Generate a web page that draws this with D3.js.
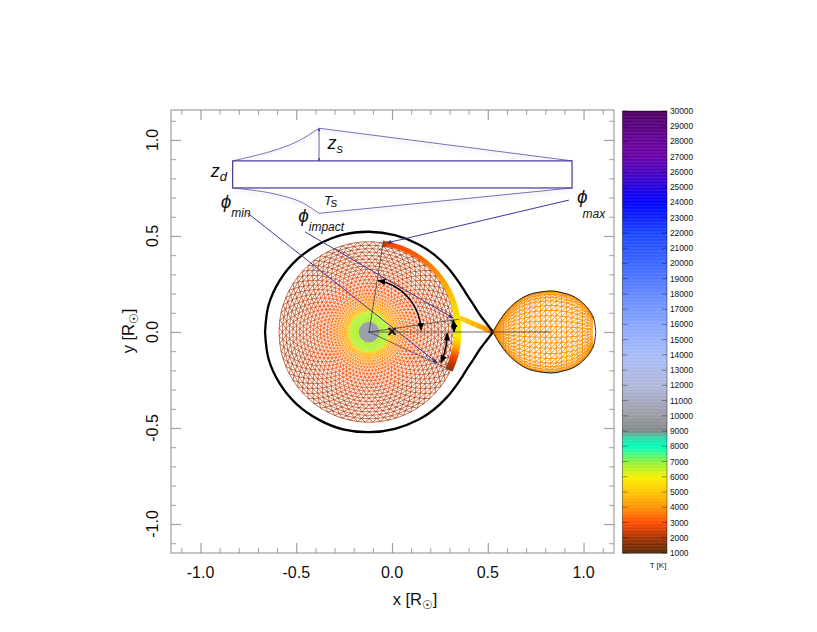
<!DOCTYPE html>
<html>
<head>
<meta charset="utf-8">
<script src="https://d3js.org/d3.v7.min.js"></script>
<style>
html, body { margin: 0; padding: 0; background: #fff; }
svg { display: block; }
text { font-family: "Liberation Sans", Arial, sans-serif; fill: #111; }
</style>
</head>
<body>
<svg id="chart" width="817" height="632"></svg>
<script>
// axis ticks
var majorTicks = [-1.0, -0.5, 0.0, 0.5, 1.0];
var minorTicks = [-1.1, -0.9, -0.8, -0.7, -0.6, -0.4, -0.3, -0.2, -0.1, 0.1, 0.2, 0.3, 0.4, 0.6, 0.7, 0.8, 0.9, 1.1];

// colour bar
var colorTemps = [1000, 1500, 2000, 3000, 4000, 5000, 6000, 7000, 8000, 8600, 9000, 10000, 12000, 14000, 16000, 18000, 20000, 22000, 24000, 25000, 26000, 27000, 28000, 29000, 30000];
var colorHexes = ['#5a2a05', '#7a2c02', '#a53202', '#ff4a00', '#ff9200', '#ffc400', '#f8f000', '#8df23c', '#00ffc0', '#30d8a8', '#808888', '#9a9aa2', '#b0b8dc', '#a8bcf8', '#88a6ff', '#6488ff', '#3a66ff', '#1a46ff', '#0000ff', '#2200e0', '#4800c0', '#6a00a8', '#660098', '#580080', '#500060'];
var barTicks = d3.range(1000, 30001, 1000);

// Roche lobe of the primary, angle round the primary and distance from it
var lobePhi = [0, 4, 8, 12, 16, 20, 25, 30, 40, 50, 60, 75, 90, 105, 120, 135, 150, 165, 180];
var lobeR = [0.647, 0.616, 0.590, 0.572, 0.559, 0.548, 0.540, 0.535, 0.530, 0.527, 0.525, 0.522, 0.522, 0.525, 0.527, 0.533, 0.538, 0.543, 0.543];

// secondary, x and half height
var donorX = [0.527, 0.564, 0.601, 0.642, 0.684, 0.726, 0.768, 0.810, 0.851, 0.893, 0.935, 0.977, 1.013, 1.040, 1.055, 1.064];
var donorH = [0, 0.0625, 0.112, 0.151, 0.180, 0.198, 0.207, 0.2125, 0.2125, 0.203, 0.191, 0.167, 0.134, 0.098, 0.0625, 0];
var donorCos = [1, 0.97, 0.92, 0.85, 0.76, 0.65, 0.53, 0.40, 0.27, 0.13, 0, -0.13, -0.27, -0.40, -0.53, -0.65, -0.76, -0.85, -0.92, -0.97, -1];
var donorTemp = 3950;

// disc
var primaryX = -0.12;
var starR = 0.054;
var starTemp = 10300;
var ringR = [0.054, 0.062, 0.070, 0.078, 0.086, 0.094, 0.101, 0.108, 0.116, 0.126, 0.138, 0.152, 0.167, 0.183, 0.200, 0.218, 0.236, 0.254, 0.272, 0.290, 0.308, 0.326, 0.344, 0.362, 0.380, 0.398, 0.416, 0.434, 0.452, 0.470];
var ringT = [6700, 6700, 6700, 6700, 6700, 6700, 6500, 5000, 4600, 4300, 4100, 3800, 3600, 3400, 3200, 3050, 2950, 2850, 2750, 2650, 2550, 2450, 2400, 2300, 2250, 2200, 2150, 2100, 2050, 2000];
var spokes = 72;

// hot rim of the disc
var rimPhi = [81, 77, 60, 50, 40, 30, 20, 12, 5, 0, -5, -10, -15, -20, -25];
var rimT = [2100, 2900, 3200, 3600, 4000, 4600, 5200, 5600, 5900, 6300, 5500, 4200, 3000, 2300, 1800];
var rimW = [0.03, 0.025, 0.025, 0.025, 0.025, 0.028, 0.03, 0.034, 0.04, 0.04, 0.04, 0.04, 0.04, 0.04, 0.04];
var rimOuter = 0.482;

// accretion stream
var streamX = [0.527, 0.50, 0.47, 0.44, 0.41, 0.38, 0.355];
var streamY = [0, 0.012, 0.024, 0.037, 0.049, 0.062, 0.073];
var streamT = [3900, 4200, 4500, 4800, 5000, 5200, 5300];

// phi angles
var phiMax = 81, phiImpact = 8, phiMin = -25;

// unfolded disc sketch
var sketchX = [-0.832, 0.940];
var sketchY = [0.750, 0.891];
var sketchTopX = [-0.832, -0.637, -0.496, -0.381];
var sketchTopY = [0.891, 0.939, 0.991, 1.061];
var sketchBotX = [-0.832, -0.637, -0.480, -0.381];
var sketchBotY = [0.750, 0.724, 0.679, 0.618];

// leaders: from x, from y, to x, to y
var leaderMin = [-0.755, 0.620, 0.235, -0.160];
var leaderImpact = [-0.454, 0.521, 0.319, 0.073];
var leaderMax = [0.924, 0.687, -0.026, 0.464];

var svg = d3.select('#chart');
var frame = {left: 171, right: 614, top: 110, bottom: 553};

var xScale = d3.scaleLinear().domain([-1.154, 1.159]).range([frame.left, frame.right]);
var yScale = d3.scaleLinear().domain([-1.151, 1.156]).range([frame.bottom, frame.top]);
var tempColor = d3.scaleLinear().domain(colorTemps).range(colorHexes);
var pxPerUnit = xScale(1) - xScale(0);

var polar = function(r, phi) {
	let a = phi * Math.PI / 180;
	return [xScale(primaryX + r * Math.cos(a)), yScale(r * Math.sin(a))];
};

var defs = svg.append('defs');
var addMarker = function(id, color, size) {
	defs.append('marker').attr('id', id)
		.attr('viewBox', '0 0 10 10').attr('refX', 9).attr('refY', 5)
		.attr('markerUnits', 'userSpaceOnUse')
		.attr('markerWidth', size).attr('markerHeight', size)
		.attr('orient', 'auto-start-reverse')
		.append('path').attr('d', 'M0,1 L10,5 L0,9 Z').attr('fill', color);
};
addMarker('arrow-black', '#000', 8);
addMarker('arrow-blue', '#2f2a8c', 5);
addMarker('arrow-small', '#3a3484', 3);

var shadow = defs.append('filter').attr('id', 'soft')
	.attr('x', '-5%').attr('y', '-30%').attr('width', '110%').attr('height', '170%');
shadow.append('feDropShadow').attr('dx', 0).attr('dy', 2).attr('stdDeviation', 2)
	.attr('flood-color', '#000').attr('flood-opacity', 0.18);

// --- disc mesh
var mesh = svg.append('g').attr('fill', 'none').attr('stroke-width', 0.7);
ringR.forEach(function(r, i) {
	let step = 360 / spokes;
	let color = tempColor(ringT[i]);
	let pts = d3.range(spokes).map(function(j) { return polar(r, j * step + i * step / 2); });
	mesh.append('path').attr('d', d3.line().curve(d3.curveLinearClosed)(pts)).attr('stroke', color);
	if (i === ringR.length - 1) return;
	let next = ringR[i + 1];
	d3.range(spokes).forEach(function(j) {
		let phi = j * step + i * step / 2;
		let a = polar(r, phi);
		let b = polar(next, phi + step / 2);
		let c = polar(next, phi - step / 2);
		mesh.append('path').attr('d', d3.line()([c, a, b])).attr('stroke', color);
	});
});

// star
svg.append('circle').attr('cx', xScale(primaryX)).attr('cy', yScale(0))
	.attr('r', starR * pxPerUnit).attr('fill', tempColor(starTemp));
svg.append('circle').attr('cx', xScale(primaryX)).attr('cy', yScale(0))
	.attr('r', 1).attr('fill', '#2a50d0');

// --- secondary mesh, stations are finer than the outline readings
var donorHeight = d3.scaleLinear().domain(donorX).range(donorH);
var meshX = d3.range(donorX[0], donorX[donorX.length - 1] + 0.001, 0.0275);
var donor = svg.append('g').attr('fill', 'none').attr('stroke', tempColor(donorTemp)).attr('stroke-width', 0.95);
donorCos.forEach(function(c, k) {
	donor.append('path').attr('d', d3.line()
		.x(function(d) { return xScale(d); })
		.y(function(d) { return yScale(c * donorHeight(d)); })(meshX));
	if (k === donorCos.length - 1) return;
	let next = donorCos[k + 1];
	meshX.forEach(function(x, i) {
		if (i === meshX.length - 1) return;
		donor.append('line')
			.attr('x1', xScale(x)).attr('y1', yScale(next * donorHeight(x)))
			.attr('x2', xScale(meshX[i + 1])).attr('y2', yScale(c * donorHeight(meshX[i + 1])));
		donor.append('line')
			.attr('x1', xScale(x)).attr('y1', yScale(c * donorHeight(x)))
			.attr('x2', xScale(x)).attr('y2', yScale(next * donorHeight(x)));
	});
});

// --- rim
var rim = svg.append('g');
rimPhi.forEach(function(phi, i) {
	if (i === rimPhi.length - 1) return;
	d3.range(6).forEach(function(s) {
		let f = s / 6;
		let p0 = phi + (rimPhi[i + 1] - phi) * f;
		let p1 = phi + (rimPhi[i + 1] - phi) * (f + 1 / 6);
		let w = rimW[i] + (rimW[i + 1] - rimW[i]) * f;
		let t = rimT[i] + (rimT[i + 1] - rimT[i]) * f;
		rim.append('path')
			.attr('transform', 'translate(' + xScale(primaryX) + ',' + yScale(0) + ')')
			.attr('d', d3.arc()({
				innerRadius: (rimOuter - w) * pxPerUnit,
				outerRadius: rimOuter * pxPerUnit,
				startAngle: (90 - p0) * Math.PI / 180,
				endAngle: (90 - p1 + 0.3) * Math.PI / 180
			}))
			.attr('fill', tempColor(t));
	});
});

// --- stream
streamX.forEach(function(x, i) {
	if (i === streamX.length - 1) return;
	svg.append('line')
		.attr('x1', xScale(x)).attr('y1', yScale(streamY[i]))
		.attr('x2', xScale(streamX[i + 1])).attr('y2', yScale(streamY[i + 1]))
		.attr('stroke', tempColor(streamT[i])).attr('stroke-width', 5);
});

// --- outlines
var lobeLine = d3.line().curve(d3.curveCatmullRom.alpha(0.5));
[1, -1].forEach(function(sign) {
	svg.append('path')
		.attr('d', lobeLine(lobePhi.map(function(phi, i) { return polar(lobeR[i], sign * phi); })))
		.attr('fill', 'none').attr('stroke', '#000').attr('stroke-width', 2.3);
	svg.append('path')
		.attr('d', lobeLine(donorX.map(function(x, i) { return [xScale(x), yScale(sign * donorH[i])]; })))
		.attr('fill', 'none').attr('stroke', '#222').attr('stroke-width', 1);
});

// --- construction lines from the primary
var guides = svg.append('g').attr('stroke', '#444').attr('stroke-width', 0.8).attr('fill', 'none');
[[phiMax, rimOuter], [phiImpact, rimOuter - 0.008], [phiMin, rimOuter]].forEach(function(d) {
	let end = polar(d[1], d[0]);
	guides.append('line')
		.attr('x1', xScale(primaryX)).attr('y1', yScale(0))
		.attr('x2', end[0]).attr('y2', end[1]);
});
guides.append('line')
	.attr('x1', xScale(primaryX)).attr('y1', yScale(0))
	.attr('x2', xScale(donorX[7] + 0.015)).attr('y2', yScale(0));

// arcs with arrows
var arcPath = function(r, from, to) {
	let pts = d3.range(0, 1.0001, 0.05).map(function(f) { return polar(r, from + (to - from) * f); });
	return d3.line().curve(d3.curveCatmullRom)(pts);
};
[[0.272, phiMax - 1, phiImpact - 6], [0.408, -1, phiMin + 2], [0.444, phiImpact, 0]].forEach(function(d) {
	svg.append('path').attr('d', arcPath(d[0], d[1], d[2]))
		.attr('fill', 'none').attr('stroke', '#000').attr('stroke-width', 1.5)
		.attr('marker-start', 'url(#arrow-black)').attr('marker-end', 'url(#arrow-black)');
});

// centre of mass
svg.append('text').attr('x', xScale(0)).attr('y', yScale(0) + 5)
	.attr('text-anchor', 'middle').attr('font-size', 17).style('font-weight', 'bold').text('×');

// --- sketch of the unfolded disc
var sketchColor = '#3f3796';
var sketch = svg.append('g').attr('fill', 'none');
var sketchLine = d3.line()
	.x(function(d) { return xScale(d[0]); })
	.y(function(d) { return yScale(d[1]); });
var curvedPart = d3.line()
	.x(function(d) { return xScale(d[0]); })
	.y(function(d) { return yScale(d[1]); })
	.curve(d3.curveCatmullRom);
var zipXY = function(xs, ys) { return xs.map(function(x, i) { return [x, ys[i]]; }); };

sketch.append('path').attr('d', curvedPart(zipXY(sketchTopX, sketchTopY)))
	.attr('stroke', '#6a62ae').attr('stroke-width', 0.9).attr('filter', 'url(#soft)');
sketch.append('path').attr('d', sketchLine([[sketchTopX[3], sketchTopY[3]], [sketchX[1], sketchY[1]]]))
	.attr('stroke', '#6a62ae').attr('stroke-width', 0.9).attr('filter', 'url(#soft)');
sketch.append('path').attr('d', curvedPart(zipXY(sketchBotX, sketchBotY)))
	.attr('stroke', '#6a62ae').attr('stroke-width', 0.9).attr('filter', 'url(#soft)');
sketch.append('path').attr('d', sketchLine([[sketchBotX[3], sketchBotY[3]], [sketchX[1], sketchY[0]]]))
	.attr('stroke', '#6a62ae').attr('stroke-width', 0.9).attr('filter', 'url(#soft)');
sketch.append('rect')
	.attr('x', xScale(sketchX[0])).attr('y', yScale(sketchY[1]))
	.attr('width', xScale(sketchX[1]) - xScale(sketchX[0]))
	.attr('height', yScale(sketchY[0]) - yScale(sketchY[1]))
	.attr('fill', '#fff').attr('stroke', sketchColor).attr('stroke-width', 1.2);
sketch.append('line')
	.attr('x1', xScale(sketchTopX[3])).attr('y1', yScale(sketchY[1]))
	.attr('x2', xScale(sketchTopX[3])).attr('y2', yScale(sketchTopY[3]))
	.attr('stroke', sketchColor).attr('stroke-width', 0.8)
	.attr('marker-start', 'url(#arrow-small)').attr('marker-end', 'url(#arrow-small)');

// leaders
[leaderMin, leaderImpact, leaderMax].forEach(function(d) {
	svg.append('line')
		.attr('x1', xScale(d[0])).attr('y1', yScale(d[1]))
		.attr('x2', xScale(d[2])).attr('y2', yScale(d[3]))
		.attr('stroke', sketchColor).attr('stroke-width', 1)
		.attr('marker-end', 'url(#arrow-blue)');
});

// labels with subscripts
var subLabel = function(x, y, main, sub, size, subSize, dx, dy) {
	let t = svg.append('text').attr('x', x).attr('y', y).style('font-style', 'italic');
	t.append('tspan').attr('font-size', size).text(main);
	t.append('tspan').attr('font-size', subSize).attr('dx', dx).attr('dy', dy).text(sub);
};
subLabel(xScale(-0.947), yScale(0.805), 'z', 'd', 18, 13, 0, 4);
subLabel(xScale(-0.337), yScale(0.953), 'z', 's', 18, 13, 0, 4);
subLabel(xScale(-0.355), yScale(0.66), 'T', 's', 13, 13, 0, 2);
subLabel(xScale(-0.894), yScale(0.645), '\u03d5', 'min', 19, 12, 0, 9);
subLabel(xScale(-0.49), yScale(0.573), '\u03d5', 'impact', 19, 12, 0, 9);
subLabel(xScale(0.966), yScale(0.67), '\u03d5', 'max', 19, 12, -5, 15);

// --- axes
var axisGroup = svg.append('g');
var drawAxis = function(make, scale, tx, ty, values, size) {
	axisGroup.append('g')
		.attr('transform', 'translate(' + tx + ',' + ty + ')')
		.call(make(scale).tickValues(values).tickSize(size).tickFormat(''))
		.call(function(g) { g.select('.domain').remove(); })
		.call(function(g) { g.selectAll('line').attr('stroke', '#a0a0a0').attr('stroke-width', size < -6 ? 1.2 : 1); });
};
[[majorTicks, 10], [minorTicks, 5]].forEach(function(d) {
	drawAxis(d3.axisBottom, xScale, 0, frame.bottom, d[0], -d[1]);
	drawAxis(d3.axisTop, xScale, 0, frame.top, d[0], -d[1]);
	drawAxis(d3.axisLeft, yScale, frame.left, 0, d[0], -d[1]);
	drawAxis(d3.axisRight, yScale, frame.right, 0, d[0], -d[1]);
});
svg.append('rect')
	.attr('x', frame.left).attr('y', frame.top)
	.attr('width', frame.right - frame.left).attr('height', frame.bottom - frame.top)
	.attr('fill', 'none').attr('stroke', '#8c8c8c').attr('stroke-width', 1);

var tickLabel = function(v) { return v.toFixed(1); };
majorTicks.forEach(function(v) {
	svg.append('text').attr('x', xScale(v)).attr('y', frame.bottom + 25)
		.attr('text-anchor', 'middle').attr('font-size', 16).text(tickLabel(v));
	svg.append('text')
		.attr('transform', 'translate(' + (frame.left - 13) + ',' + yScale(v) + ') rotate(-90)')
		.attr('text-anchor', 'middle').attr('font-size', 16).text(tickLabel(v));
});

var axisTitle = function(t, name) {
	t.attr('font-size', 16.5);
	t.append('tspan').text(name + ' [R');
	t.append('tspan').attr('font-size', 12).attr('dy', 4).style('font-family', 'DejaVu Sans').text('\u2609');
	t.append('tspan').attr('dy', -4).text(']');
};
axisTitle(svg.append('text').attr('x', 415).attr('y', 605).attr('text-anchor', 'middle'), 'x');
axisTitle(svg.append('text').attr('transform', 'translate(134,331) rotate(-90)').attr('text-anchor', 'middle'), 'y');

// --- colour bar
var bar = {left: 622.5, right: 667, top: 111, bottom: 553};
var barScale = d3.scaleLinear().domain([1000, 30000]).range([bar.bottom, bar.top]);
d3.range(1000, 30000, 50).forEach(function(t) {
	svg.append('rect')
		.attr('x', bar.left).attr('width', bar.right - bar.left)
		.attr('y', barScale(t + 50)).attr('height', barScale(t) - barScale(t + 50) + 0.4)
		.attr('fill', tempColor(t + 25));
});
svg.append('rect')
	.attr('x', bar.left).attr('y', bar.top)
	.attr('width', bar.right - bar.left).attr('height', bar.bottom - bar.top)
	.attr('fill', 'none').attr('stroke', '#000').attr('stroke-opacity', 0.5).attr('stroke-width', 0.8);
barTicks.forEach(function(t) {
	[[bar.left, bar.left + 5], [bar.right - 5, bar.right]].forEach(function(d) {
		svg.append('line').attr('x1', d[0]).attr('x2', d[1])
			.attr('y1', barScale(t)).attr('y2', barScale(t))
			.attr('stroke', '#000').attr('stroke-opacity', 0.45).attr('stroke-width', 0.8);
	});
	svg.append('text').attr('x', bar.right + 3).attr('y', barScale(t) + 3)
		.attr('font-size', 8.3).text(t);
});
svg.append('text').attr('x', 658).attr('y', 568).attr('text-anchor', 'middle')
	.attr('font-size', 8).text('T [K]');
</script>
</body>
</html>
